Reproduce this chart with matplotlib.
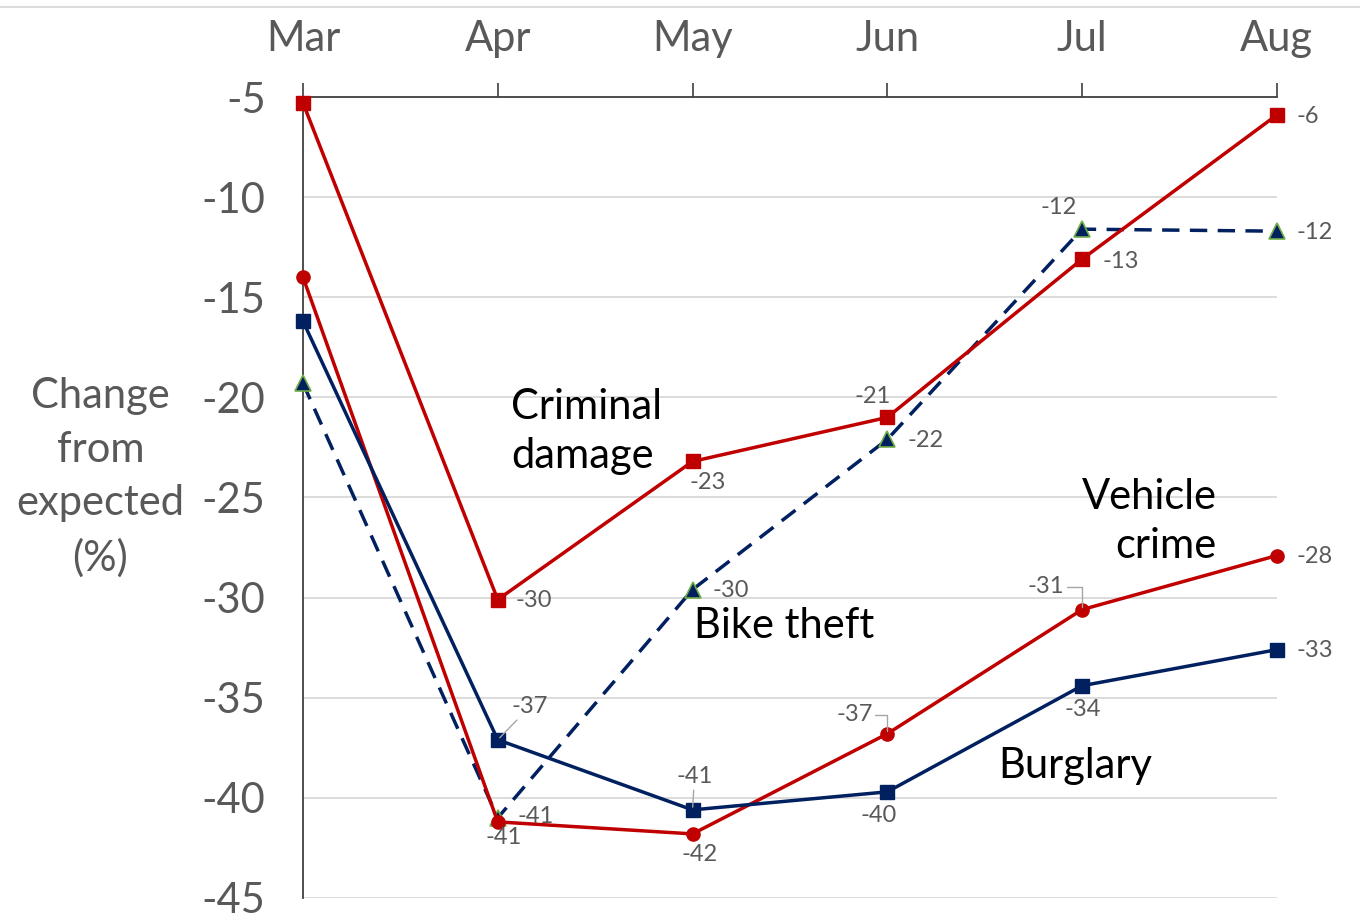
import matplotlib
matplotlib.use("Agg")
import matplotlib.pyplot as plt
from matplotlib.lines import Line2D

plt.rcParams['font.family'] = ['Lato', 'DejaVu Sans']

months = ["Mar", "Apr", "May", "Jun", "Jul", "Aug"]
criminal_damage = [-5.3, -30.1, -23.2, -21.0, -13.1, -5.9]
vehicle_crime = [-14.0, -41.2, -41.8, -36.8, -30.6, -27.9]
burglary = [-16.2, -37.1, -40.6, -39.7, -34.4, -32.6]
bike_theft = [-19.3, -41.0, -29.6, -22.1, -11.6, -11.7]
y_ticks = [-5, -10, -15, -20, -25, -30, -35, -40, -45]

RED = "#C00000"
NAVY = "#002060"
GREEN = "#70AD47"
GREY = "#595959"

fig = plt.figure(figsize=(13.6, 9.23), dpi=100)
ax = fig.add_axes([0.2228, 0.0271, 0.716, 0.8678])
x = list(range(len(months)))

ax.plot(x, criminal_damage, color=RED, lw=2.5, marker="s", ms=9.5, zorder=4, clip_on=False)
ax.plot(x, vehicle_crime, color=RED, lw=2.5, marker="o", ms=9.5, zorder=4, clip_on=False)
ax.plot(x, burglary, color=NAVY, lw=2.5, marker="s", ms=9.5, zorder=4, clip_on=False)
ax.plot(x, bike_theft, color=NAVY, lw=2.5, ls=(0, (5, 3)), marker="^", ms=11,
        mfc=NAVY, mec=GREEN, mew=1.2, zorder=3, clip_on=False)

ax.set_xlim(0, 5)
ax.set_ylim(-45, -5)
ax.set_yticks(y_ticks)
ax.set_yticklabels([str(v) for v in y_ticks])
ax.set_xticks(x)
ax.set_xticklabels(months)
ax.xaxis.tick_top()
ax.tick_params(axis="x", direction="out", length=10, width=1.2, color="#404040",
               labelsize=30, labelcolor=GREY, pad=18)
ax.tick_params(axis="y", length=0, labelsize=30, labelcolor=GREY, pad=27)
ax.grid(axis="y", color="#D9D9D9", lw=1.3)
ax.set_axisbelow(True)
for side in ["right", "bottom"]:
    ax.spines[side].set_visible(False)
ax.spines["left"].set_color("#404040")
ax.spines["left"].set_linewidth(1.3)
ax.spines["top"].set_color("#404040")
ax.spines["top"].set_linewidth(1.3)
ax.set_ylabel("Change\nfrom\nexpected\n(%)", rotation=0, fontsize=30, color=GREY,
              ha="center", va="center", linespacing=1.5)
ax.yaxis.set_label_coords(-0.208, 0.525)


def label(series, i, dx, dy, ha="center", leader=None):
    txt = f"{series[i]:.0f}"
    kw = {}
    if leader is not None:
        kw["arrowprops"] = dict(arrowstyle="-", color="#A6A6A6", lw=1.0,
                                shrinkA=0, shrinkB=2, connectionstyle=leader)
    ax.annotate(txt, (x[i], series[i]), xytext=(dx, dy), textcoords="offset pixels",
                ha=ha, va="center", fontsize=17, color=GREY, zorder=6, **kw)


# criminal damage
label(criminal_damage, 1, 18, -1, "left")
label(criminal_damage, 2, 15, -21)
label(criminal_damage, 3, -15, 21)
label(criminal_damage, 4, 20, -2, "left")
label(criminal_damage, 5, 20, -1, "left")
# vehicle crime
label(vehicle_crime, 1, 6, -16)
label(vehicle_crime, 2, 7, -21)
label(vehicle_crime, 3, -33, 19, leader="angle,angleA=0,angleB=90,rad=0")
label(vehicle_crime, 4, -36, 23, leader="angle,angleA=0,angleB=90,rad=0")
label(vehicle_crime, 5, 20, -1, "left")
# burglary
label(burglary, 1, 32, 33, leader="arc3")
label(burglary, 2, 2, 33, leader="arc3")
label(burglary, 3, -9, -24)
label(burglary, 4, 1, -24)
label(burglary, 5, 20, -1, "left")
# bike theft
label(bike_theft, 1, 20, 1, "left")
label(bike_theft, 2, 20, -1, "left")
label(bike_theft, 3, 20, -1, "left")
label(bike_theft, 4, -23, 22)
label(bike_theft, 5, 20, -1, "left")

ax.text(1.07, -21.7, "Criminal\ndamage", fontsize=30, color="black", ha="left",
        va="center", linespacing=1.38)
ax.text(4.69, -26.2, "Vehicle\ncrime", fontsize=30, color="black", ha="right",
        va="center", linespacing=1.38)
ax.text(2.01, -31.4, "Bike theft", fontsize=30, color="black", ha="left", va="center")
ax.text(3.57, -38.4, "Burglary", fontsize=30, color="black", ha="left", va="center")

fig.add_artist(Line2D([0, 1], [0.992, 0.992], transform=fig.transFigure,
                      color="#DDDDDD", lw=1.5))

fig.savefig("out.png", dpi=100)
